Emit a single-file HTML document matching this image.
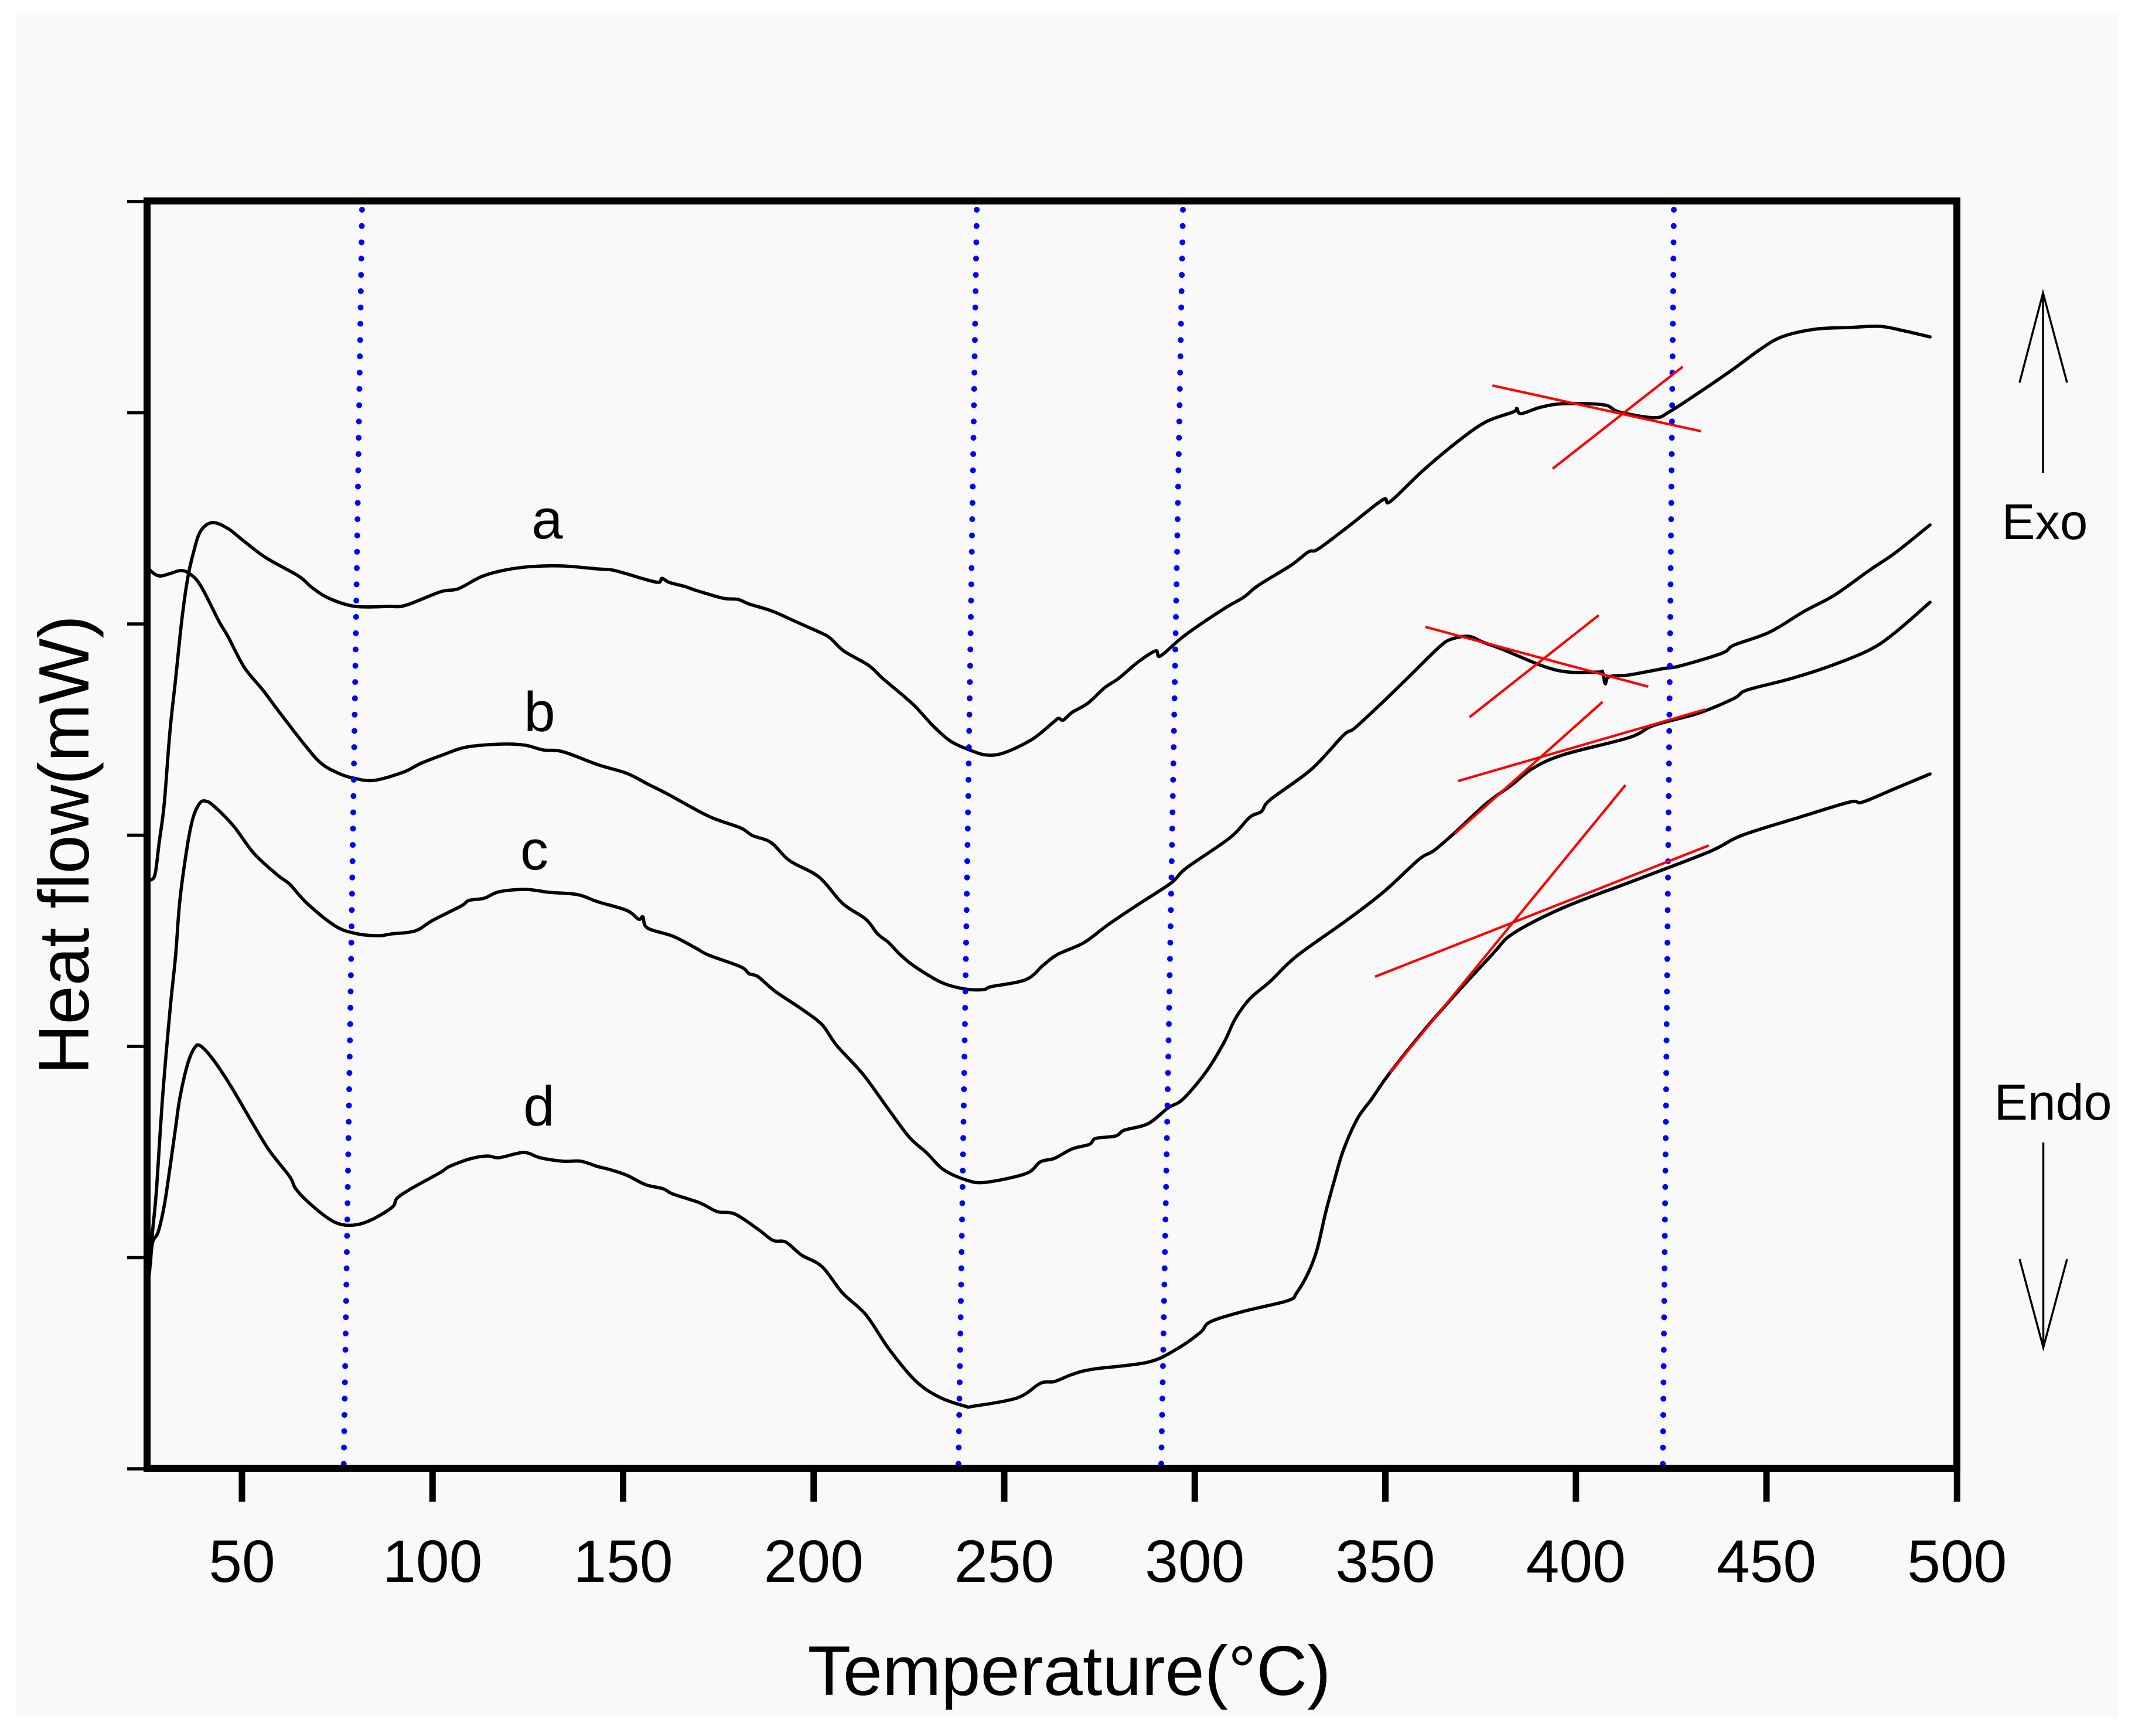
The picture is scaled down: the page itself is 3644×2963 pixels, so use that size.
<!DOCTYPE html>
<html lang="en">
<head>
<meta charset="utf-8">
<title>DSC heat flow vs temperature</title>
<style>
html,body{margin:0;padding:0;background:#fff;}
svg{display:block;}
text{font-family:"Liberation Sans",Arial,sans-serif;fill:#000;}
</style>
</head>
<body>
<svg id="chart" xmlns="http://www.w3.org/2000/svg" width="3644" height="2963" viewBox="0 0 3644 2963">
  <rect x="27" y="22" width="3588" height="2908" fill="#f9f9f9"/>
  <g id="series-layer"></g>
  <g id="onset-layer"></g>
  <g id="tangent-layer"></g>
  <g id="axis-layer"></g>

  <text x="1825" y="2893" font-size="120" text-anchor="middle" textLength="893" lengthAdjust="spacingAndGlyphs">Temperature(°C)</text>
  <text transform="translate(151,1442) rotate(-90)" font-size="122" text-anchor="middle" textLength="784" lengthAdjust="spacingAndGlyphs">Heat flow(mW)</text>

  <text x="934" y="919" font-size="96" text-anchor="middle">a</text>
  <text x="921" y="1248" font-size="96" text-anchor="middle">b</text>
  <text x="912" y="1484" font-size="96" text-anchor="middle">c</text>
  <text x="920" y="1921" font-size="96" text-anchor="middle">d</text>

  <text x="3490" y="920" font-size="85" text-anchor="middle">Exo</text>
  <text x="3504" y="1911" font-size="86" text-anchor="middle">Endo</text>

  <g fill="none" stroke="#000" stroke-width="3.5">
    <path d="M3487 807V500"/>
    <path d="M3447 653L3487 500L3528 653"/>
  </g>
  <g fill="none" stroke="#000" stroke-width="3.5">
    <path d="M3487.5 1950V2300"/>
    <path d="M3447 2149L3487.5 2300L3528 2149"/>
  </g>
</svg>

<script>
// ---- chart data (temperature in deg C, heat flow in arbitrary units) ----
const xTicks = [50,100,150,200,250,300,350,400,450,500];
const yTicks = [0,36.05,72.1,108.15,144.2,180.25,216.3];

const tempA = [
26.0,27.2,28.3,29.6,31.1,32.6,34.2,35.7,37.2,39.1,
42.2,46.3,50.2,56.3,64.8,68.6,73.1,79.7,88.4,93.0,
102.1,106.7,112.9,119.0,125.9,134.2,143.3,147.2,151.8,154.8,
159.3,160.2,162.1,166.2,169.3,176.2,180.1,183.1,189.1,195.3,
202.2,204.5,207.9,214.5,218.3,225.9,231.2,235.9,240.5,244.6,
248.2,252.6,258.0,263.2,264.3,265.5,267.8,272.0,276.3,280.0,
285.1,289.7,290.9,296.1,300.7,308.4,312.9,316.7,325.2,329.8,
332.4,340.4,343.5,349.6,351.3,359.9,369.1,376.4,383.6,384.5,
385.6,390.8,396.8,407.3,411.3,420.5,424.5,432.3,441.5,448.2,
454.0,462.6,471.8,479.8,486.3,492.9];
const heatA = [
100.5,101.5,107.0,113.5,125.9,134.9,144.8,151.8,156.2,160.0,
161.5,160.5,158.5,155.5,152.4,150.3,148.5,147.2,147.2,147.4,
149.7,150.2,152.3,153.4,154.0,154.1,153.6,153.4,152.6,152.0,
151.3,152.0,151.3,150.6,149.9,148.6,148.4,147.6,146.4,144.6,
142.6,141.7,139.6,137.1,134.8,130.6,126.9,124.2,122.8,121.9,
121.9,122.9,124.8,127.6,128.1,127.8,129.1,130.7,133.3,134.9,
137.7,139.6,138.7,141.6,143.8,147.1,148.8,150.8,154.2,156.5,
157.0,160.9,162.5,165.5,165.1,170.4,175.4,178.7,180.4,181.0,
180.1,181.2,181.8,181.6,180.4,179.4,180.4,183.7,187.8,191.0,
193.2,194.5,194.8,195.0,194.2,193.2];

const tempB = [
25.0,26.0,28.3,31.1,33.7,36.0,39.1,44.0,46.3,50.6,
55.5,60.1,66.3,70.8,75.4,79.2,84.6,92.3,96.9,102.9,
109.0,118.3,124.4,129.0,134.2,143.3,151.0,156.4,161.6,172.4,
180.8,183.9,188.8,193.7,201.4,207.6,213.7,216.8,219.7,222.8,
226.6,233.6,239.7,244.6,246.6,255.7,260.3,264.0,270.9,277.1,
284.6,293.8,297.7,309.2,314.4,317.5,319.8,330.6,339.0,341.9,
348.9,356.5,364.2,367.3,371.8,375.6,381.0,391.4,398.0,406.0,
407.0,407.7,408.7,413.9,423.1,427.1,438.3,441.5,450.8,460.0,
467.8,477.1,483.7,492.9];
const heatB = [
154.5,153.3,152.4,152.8,153.3,152.9,150.8,144.6,142.1,136.8,
132.9,128.9,123.7,120.4,118.7,117.9,117.5,118.9,120.4,121.9,
123.2,123.7,123.5,122.7,122.4,120.2,118.7,116.9,115.2,111.4,
109.4,108.1,106.9,103.8,101.0,96.5,93.8,91.3,89.8,87.7,
85.7,83.0,81.9,81.8,82.3,83.5,86.0,87.8,89.8,92.8,
96.1,100.0,102.5,107.7,111.2,112.2,114.2,119.4,125.2,126.4,
130.6,135.4,140.3,141.6,142.1,141.1,139.8,137.0,136.0,136.0,
136.0,134.0,135.2,135.5,136.6,137.0,139.2,140.6,142.8,146.4,
149.1,153.4,156.3,161.1];

const tempC = [
26.0,26.5,27.6,29.1,31.1,32.6,33.7,35.7,37.2,38.8,
40.2,42.5,47.8,53.2,59.4,62.5,67.1,74.6,80.4,86.1,
89.2,95.4,100.0,107.6,109.5,113.6,117.5,124.4,130.6,138.1,
143.3,151.0,154.1,155.2,156.4,163.1,169.3,172.4,180.8,183.1,
185.4,189.9,196.8,202.2,206.0,213.0,219.7,225.1,229.7,234.0,
240.0,245.1,255.7,259.5,263.2,267.8,272.4,274.0,279.2,281.5,
287.7,293.0,296.9,303.0,307.7,310.6,314.4,319.8,326.7,339.8,
349.6,358.8,362.7,368.1,376.4,383.1,388.8,396.8,413.9,420.5,
432.3,441.5,444.8,456.0,466.6,477.1,483.7,492.9];
const heatC = [
35.0,40.2,47.9,62.8,78.2,87.7,97.0,106.5,111.2,113.5,
114.0,113.2,109.7,105.0,101.3,99.8,96.5,92.6,91.3,91.0,
91.3,91.8,93.6,96.1,97.0,97.4,98.5,98.9,98.4,98.0,
96.8,95.3,93.8,94.2,92.3,90.9,88.8,87.7,85.7,84.5,
84.0,81.5,78.5,75.8,72.3,67.3,61.3,56.6,53.9,51.1,
49.3,48.9,50.4,52.4,53.0,54.6,55.4,56.4,56.8,57.8,
58.9,61.6,63.1,67.8,72.8,76.8,80.2,83.2,87.5,93.6,
98.5,104.0,105.5,108.5,113.5,116.7,119.6,121.9,124.8,126.9,
129.0,131.5,132.9,134.8,137.0,139.8,142.7,147.9];

const tempD = [
25.7,26.5,28.0,29.6,31.1,32.6,33.7,35.7,37.5,39.1,
42.5,47.1,52.5,57.1,62.5,64.0,67.1,72.3,76.1,80.4,
84.6,89.5,90.7,94.6,102.1,104.4,109.8,114.4,117.5,123.9,
128.2,134.2,138.9,143.3,146.4,151.0,155.9,160.5,163.1,170.1,
174.7,179.3,185.4,189.3,192.7,196.8,202.2,207.6,213.7,219.7,
226.6,232.8,239.7,242.0,253.4,259.5,263.2,267.8,273.2,287.7,
295.4,301.5,304.1,312.9,324.4,326.7,329.8,332.1,334.4,336.7,
339.0,342.7,346.6,351.2,362.7,377.9,383.6,396.8,415.3,434.9,
443.5,458.6,471.8,475.2,483.7,492.9];
const heatD = [
33.2,38.5,40.4,44.9,51.4,58.3,63.3,69.0,71.8,72.2,
69.8,65.3,59.3,54.4,49.9,47.9,45.7,42.9,41.7,41.7,
42.7,44.7,46.2,47.9,50.6,51.6,52.9,53.4,53.1,54.0,
53.1,52.5,52.5,51.6,51.1,50.1,48.5,47.8,46.9,45.4,
43.9,43.5,40.9,39.0,38.7,36.5,34.5,30.0,26.3,20.5,
15.1,12.3,10.7,10.7,12.1,14.6,14.9,16.1,17.0,18.2,
20.5,23.3,25.1,26.9,28.7,30.0,33.5,37.5,43.9,49.4,
54.4,59.8,63.3,67.6,76.8,87.7,91.4,95.8,100.4,105.3,
108.1,111.2,113.8,113.8,116.1,118.6];

// blue dotted guide lines (temperature at the top and bottom of the plot)
const guideTopTemp = [81.5,242.8,296.9,425.7];
const guideBottomTemp = [76.7,238.0,291.2,422.8];
const guideTopHeat = 214.9;
const guideBottomHeat = 0.7;

// red tangent lines
const tangentStartTemp = [378.1,393.9,360.5,372.1,369.1,368.2,347.3,351.2];
const tangentStartHeat = [184.9,170.7,143.7,128.3,117.4,108.4,84.0,67.6];
const tangentEndTemp = [432.8,428.0,419.0,406.0,433.9,407.0,434.9,413.0];
const tangentEndHeat = [177.1,188.1,133.5,145.7,129.6,130.9,106.4,116.7];

// ---- axis functions ----
const xScale = function (t) { return 413 + (t - 50) * 6.505; };
const yScale = function (h) { return 2507 - h * 10; };

const NS = 'http://www.w3.org/2000/svg';
function make(tag, parent, attrs) {
  const el = document.createElementNS(NS, tag);
  for (const k in attrs) el.setAttribute(k, attrs[k]);
  parent.appendChild(el);
  return el;
}

function smoothPath(temps, heats) {
  const p = temps.map(function (t, i) { return [xScale(t), yScale(heats[i])]; });
  let d = 'M' + p[0][0].toFixed(1) + ' ' + p[0][1].toFixed(1);
  for (let i = 0; i < p.length - 1; i++) {
    const p0 = p[Math.max(i - 1, 0)];
    const p1 = p[i];
    const p2 = p[i + 1];
    const p3 = p[Math.min(i + 2, p.length - 1)];
    const c1x = p1[0] + (p2[0] - p0[0]) / 6;
    const c1y = p1[1] + (p2[1] - p0[1]) / 6;
    const c2x = p2[0] - (p3[0] - p1[0]) / 6;
    const c2y = p2[1] - (p3[1] - p1[1]) / 6;
    d += 'C' + c1x.toFixed(1) + ' ' + c1y.toFixed(1) + ' ' + c2x.toFixed(1) + ' ' + c2y.toFixed(1) + ' ' + p2[0].toFixed(1) + ' ' + p2[1].toFixed(1);
  }
  return d;
}

const seriesLayer = document.getElementById('series-layer');
const onsetLayer = document.getElementById('onset-layer');
const tangentLayer = document.getElementById('tangent-layer');
const axisLayer = document.getElementById('axis-layer');

// ---- series ----
[['a', tempA, heatA], ['b', tempB, heatB], ['c', tempC, heatC], ['d', tempD, heatD]].forEach(function (s) {
  const curve = make('path', seriesLayer, {
    d: smoothPath(s[1], s[2]), fill: 'none', stroke: '#000',
    'stroke-width': 5.6, 'stroke-linejoin': 'round', 'stroke-linecap': 'round'
  });
  
  
});

// ---- blue guides ----
guideTopTemp.forEach(function (t, i) {
  const guide = make('line', onsetLayer, {
    x1: xScale(t), y1: yScale(guideTopHeat),
    x2: xScale(guideBottomTemp[i]), y2: yScale(guideBottomHeat),
    stroke: '#0000ff', 'stroke-width': 10, 'stroke-linecap': 'round', 'stroke-dasharray': '0 27.8'
  });
  
  
});

// ---- red tangents ----
tangentStartTemp.forEach(function (t, i) {
  const tangent = make('line', tangentLayer, {
    x1: xScale(t), y1: yScale(tangentStartHeat[i]),
    x2: xScale(tangentEndTemp[i]), y2: yScale(tangentEndHeat[i]),
    stroke: '#ff0000', 'stroke-width': 4.2
  });
  
  
});

// ---- axes ----
const frameTop = make('line', axisLayer, { x1: 245, y1: 343, x2: 3346, y2: 343, stroke: '#000', 'stroke-width': 12 });



const frameBottom = make('line', axisLayer, { x1: 245, y1: 2506, x2: 3346, y2: 2506, stroke: '#000', 'stroke-width': 12 });



const frameLeft = make('line', axisLayer, { x1: 251, y1: 337, x2: 251, y2: 2512, stroke: '#000', 'stroke-width': 12 });



const frameRight = make('line', axisLayer, { x1: 3340, y1: 337, x2: 3340, y2: 2512, stroke: '#000', 'stroke-width': 12 });



xTicks.forEach(function (v) {
  const tick = make('line', axisLayer, {
    x1: xScale(v), y1: 2506, x2: xScale(v), y2: 2563,
    stroke: '#000', 'stroke-width': 11
  });
  
  
  const label = make('text', axisLayer, {
    x: xScale(v), y: 2700, 'font-size': 102, 'text-anchor': 'middle'
  });
  label.textContent = String(v);
  
  
});

yTicks.forEach(function (v, i) {
  const tick = make('line', axisLayer, {
    x1: 217, y1: yScale(v), x2: 251, y2: yScale(v),
    stroke: '#000', 'stroke-width': 5.5
  });
  
  
});
</script>
</body>
</html>
